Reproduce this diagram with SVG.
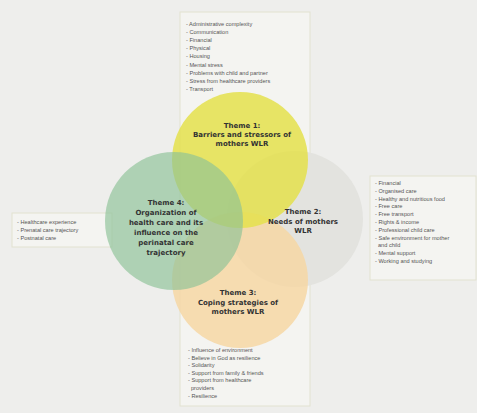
<svg xmlns="http://www.w3.org/2000/svg" width="477" height="413" viewBox="0 0 477 413">
<style>
.box{fill:#f4f4f1;stroke:#e2e2d0;stroke-width:1}
.lst{font-family:"Liberation Sans",Arial,sans-serif;font-size:5.6px;fill:#555}
.th{font-family:"DejaVu Sans",Verdana,sans-serif;font-size:7px;font-weight:bold;fill:#333;text-anchor:middle}
</style>
<rect width="477" height="413" fill="#eeeeec"/>
<g id="frames">
<rect class="box" x="180" y="12" width="130" height="394"/>
<rect class="box" x="370" y="176" width="106" height="104"/>
<rect class="box" x="12" y="213" width="100" height="34"/>
</g>
<g id="circles">
<circle id="c-gray" cx="295" cy="219" r="68" fill="#e3e3df"/>
<circle id="c-orange" cx="240" cy="280" r="68" fill="#f6d7a4" opacity="0.85"/>
<circle id="c-yellow" cx="240" cy="160" r="68" fill="#e4e04c" opacity="0.85"/>
<circle id="c-green" cx="174" cy="221" r="69" fill="#8cc197" opacity="0.65"/>
</g>
<g id="theme1"><text class="th" x="242" y="128">Theme 1:<tspan x="242" dy="9">Barriers and stressors of</tspan><tspan x="242" dy="9">mothers WLR</tspan></text></g>
<g id="theme2"><text class="th" x="303" y="214">Theme 2:<tspan x="303" dy="9.5">Needs of mothers</tspan><tspan x="303" dy="9.5">WLR</tspan></text></g>
<g id="theme3"><text class="th" x="238" y="295">Theme 3:<tspan x="238" dy="9.5">Coping strategies of</tspan><tspan x="238" dy="9.5">mothers WLR</tspan></text></g>
<g id="theme4"><text class="th" x="166" y="205">Theme 4:<tspan x="166" dy="10">Organization of</tspan><tspan x="166" dy="10">health care and its</tspan><tspan x="166" dy="10">influence on the</tspan><tspan x="166" dy="10">perinatal care</tspan><tspan x="166" dy="10">trajectory</tspan></text></g>
<g id="list-top"><text class="lst" x="186" y="26">- Administrative complexity<tspan x="186" dy="8.1">- Communication</tspan><tspan x="186" dy="8.1">- Financial</tspan><tspan x="186" dy="8.1">- Physical</tspan><tspan x="186" dy="8.1">- Housing</tspan><tspan x="186" dy="8.1">- Mental stress</tspan><tspan x="186" dy="8.1">- Problems with child and partner</tspan><tspan x="186" dy="8.1">- Stress from healthcare providers</tspan><tspan x="186" dy="8.1">- Transport</tspan></text></g>
<g id="list-right"><text class="lst" x="375" y="185">- Financial<tspan x="375" dy="7.8">- Organised care</tspan><tspan x="375" dy="7.8">- Healthy and nutritious food</tspan><tspan x="375" dy="7.8">- Free care</tspan><tspan x="375" dy="7.8">- Free transport</tspan><tspan x="375" dy="7.8">- Rights &amp; income</tspan><tspan x="375" dy="7.8">- Professional child care</tspan><tspan x="375" dy="7.8">- Safe environment for mother</tspan><tspan x="378" dy="7.8">and child</tspan><tspan x="375" dy="7.8">- Mental support</tspan><tspan x="375" dy="7.8">- Working and studying</tspan></text></g>
<g id="list-left"><text class="lst" x="17" y="224">- Healthcare experience<tspan x="17" dy="7.8">- Prenatal care trajectory</tspan><tspan x="17" dy="7.8">- Postnatal care</tspan></text></g>
<g id="list-bottom"><text class="lst" x="188" y="352">- Influence of environment<tspan x="188" dy="7.6">- Believe in God as resilience</tspan><tspan x="188" dy="7.6">- Solidarity</tspan><tspan x="188" dy="7.6">- Support from family &amp; friends</tspan><tspan x="188" dy="7.6">- Support from healthcare</tspan><tspan x="191" dy="7.6">providers</tspan><tspan x="188" dy="7.6">- Resilience</tspan></text></g>
</svg>
